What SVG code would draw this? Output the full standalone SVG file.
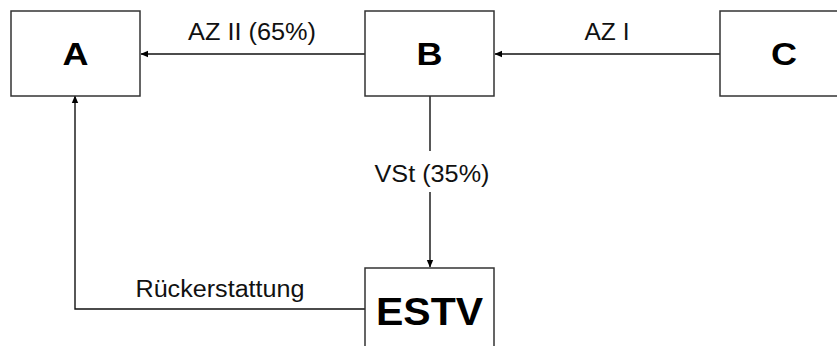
<svg xmlns="http://www.w3.org/2000/svg" width="837" height="346" viewBox="0 0 837 346">
<style>
.box{fill:#fff;stroke:#333;stroke-width:1.5}
.nt{font-family:"Liberation Sans",Arial,sans-serif;font-weight:bold;fill:#000;text-anchor:middle}
.lb{font-family:"Liberation Sans",Arial,sans-serif;font-size:23px;fill:#111;text-anchor:middle}
.ln{fill:none;stroke:#111;stroke-width:1.4}
</style>
<defs>
<marker id="ah" markerWidth="8" markerHeight="8" refX="7" refY="4" orient="auto" markerUnits="userSpaceOnUse">
<path d="M0,0.8 L7.5,4 L0,7.2 Z" fill="#000"/>
</marker>
</defs>
<rect width="837" height="346" fill="#fff"/>
<g id="connectors">
<line class="ln" x1="365" y1="54" x2="141" y2="54" marker-end="url(#ah)"/>
<line class="ln" x1="720" y1="54" x2="495" y2="54" marker-end="url(#ah)"/>
<line class="ln" x1="430" y1="96" x2="430" y2="267" marker-end="url(#ah)"/>
<polyline class="ln" points="365,309 75,309 75,96" marker-end="url(#ah)"/>
<rect x="364" y="151" width="137" height="41" fill="#fff"/>
<text class="lb" x="252" y="40" textLength="128" lengthAdjust="spacingAndGlyphs">AZ II (65%)</text>
<text class="lb" x="607" y="40" textLength="45" lengthAdjust="spacingAndGlyphs">AZ I</text>
<text class="lb" x="432" y="182" textLength="115" lengthAdjust="spacingAndGlyphs">VSt (35%)</text>
<text class="lb" x="220" y="297" textLength="169" lengthAdjust="spacingAndGlyphs">Rückerstattung</text>
</g>
<g id="node-A"><rect class="box" x="11" y="11" width="129" height="85"/><text class="nt" x="75.5" y="65" font-size="32" textLength="26" lengthAdjust="spacingAndGlyphs">A</text></g>
<g id="node-B"><rect class="box" x="365" y="11" width="129" height="85"/><text class="nt" x="429.5" y="65" font-size="32" textLength="26" lengthAdjust="spacingAndGlyphs">B</text></g>
<g id="node-C"><rect class="box" x="720" y="11" width="129" height="85"/><text class="nt" x="784" y="65" font-size="32" textLength="26" lengthAdjust="spacingAndGlyphs">C</text></g>
<g id="node-ESTV"><rect class="box" x="365" y="268" width="129" height="90"/><text class="nt" x="429.5" y="325" font-size="38" textLength="107" lengthAdjust="spacingAndGlyphs">ESTV</text></g>
</svg>
